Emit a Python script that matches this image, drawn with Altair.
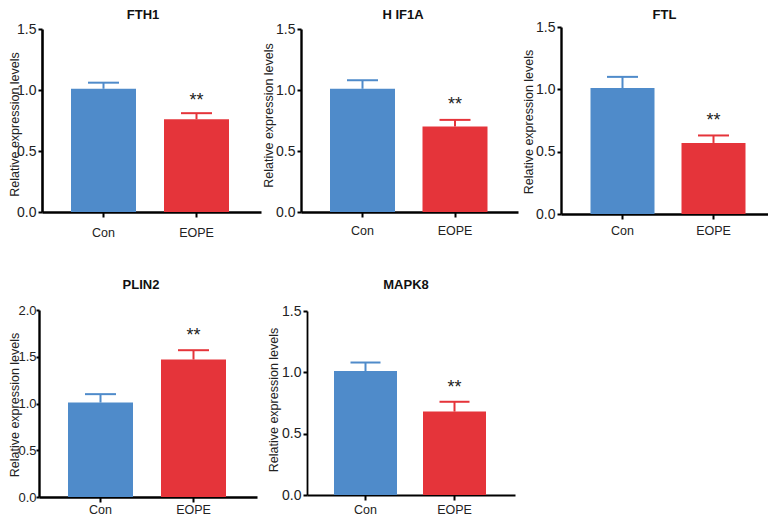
import altair as alt
import pandas as pd

GROUPS = ["Con", "EOPE"]
COLORS = ["#4f8bca", "#e5343a"]
TITLE_Y = "Relative expression levels"

GENES = ["FTH1", "H IF1A", "FTL", "PLIN2", "MAPK8"]
MEANS = [[1.01, 0.76], [1.01, 0.70], [1.01, 0.57], [1.01, 1.47], [1.01, 0.68]]
UPPER = [[1.06, 0.81], [1.08, 0.755], [1.10, 0.63], [1.10, 1.57], [1.08, 0.76]]
STARS = [0.934, 0.90, 0.77, 1.757, 0.895]
YMAX = [1.5, 1.5, 1.5, 2.0, 1.5]
YTICKS = [[0, 0.5, 1.0, 1.5], [0, 0.5, 1.0, 1.5], [0, 0.5, 1.0, 1.5],
          [0, 0.5, 1.0, 1.5, 2.0], [0, 0.5, 1.0, 1.5]]

# layout settings per panel
WIDTH = [222, 220, 207, 222, 220]
HEIGHT = 187
YRANGE = [[185, 2], [185, 2], [187, 0], [187, 0], [185, 1]]
XAXIS_OFF = [-2, -2, 0, 0, -2]
XSTART = [3, 0, 0, 0, 6]
XLEN = [219, 217, 207, 218, 208]
LEFT = [29, 29, 29.5, 29, 27]
STEP = [93, 92.5, 91, 93, 89]
BARW = [65, 65, 64, 65, 63]
TITLE_X = [-27.5, -33, -33, -24.5, -34]
TITLE_Y_POS = [97, 88, 94.5, 94.5, 89.5]
AXIS_OFF = [-3, 0, 0, 0, -6]
TITLE_DX = [-7, -8, 0, -9, -5]
TITLE_OFF = [0, 0, -2, 12, 12]
DOMAIN_W = [2.6, 2.4, 2.4, 2.4, 1.8]
CAPW = [31, 31, 31, 31, 30]
LABEL_PAD = [9, 7, 5, 1, 3]
YLABEL_SIZE = [14, 14, 14, 13, 14]
YLABEL_PAD = [2, 2, 2, 0, 2]
YTICK_SIZE = [4, 4, 4, 3, 4]
SPACING = 40
ROW_SPACING = 96
FONT = "Liberation Sans"


def panel(i):
    df = pd.DataFrame({"group": GROUPS, "mean": MEANS[i], "upper": UPPER[i]})
    sig = pd.DataFrame({"group": [GROUPS[1]], "star": [STARS[i]], "label": ["**"]})
    inner = 1 - BARW[i] / STEP[i]
    rest = XLEN[i] - STEP[i] * (2 - inner)
    xscale = alt.Scale(
        domain=GROUPS,
        range=[XSTART[i], XSTART[i] + XLEN[i]],
        paddingInner=inner,
        paddingOuter=rest / (2 * STEP[i]),
        align=LEFT[i] / rest,
        round=False,
    )
    xaxis = alt.Axis(
        title=None, labelAngle=0, labelFont=FONT, labelFontSize=12.5,
        labelColor="#222222", labelPadding=LABEL_PAD[i], tickSize=5, tickWidth=2,
        tickColor="black", domainColor="black", domainWidth=DOMAIN_W[i],
        offset=XAXIS_OFF[i],
    )
    x = alt.X("group:N", scale=xscale, sort=GROUPS, axis=xaxis)
    yscale = alt.Scale(domain=[0, YMAX[i]], range=YRANGE[i], nice=False)
    yaxis = alt.Axis(
        title=TITLE_Y, values=YTICKS[i], format=".1f", grid=False,
        offset=AXIS_OFF[i], labelFont=FONT, labelFontSize=YLABEL_SIZE[i],
        labelColor="#222222", labelPadding=YLABEL_PAD[i], tickSize=YTICK_SIZE[i], tickWidth=2,
        tickColor="black", domainColor="black", domainWidth=DOMAIN_W[i],
        titleFont=FONT, titleFontSize=12.5, titleFontWeight="normal",
        titleColor="#222222", titleX=TITLE_X[i], titleY=TITLE_Y_POS[i],
        titleAngle=270, titleAlign="center", titleBaseline="middle",
    )
    color = alt.Color("group:N", scale=alt.Scale(domain=GROUPS, range=COLORS), legend=None)
    base = alt.Chart(df)
    bar = base.mark_bar(opacity=1).encode(
        x=x, y=alt.Y("mean:Q", scale=yscale, axis=yaxis), color=color
    )
    rule = base.mark_rule(strokeWidth=2).encode(
        x=x, y=alt.Y("mean:Q", scale=yscale, axis=yaxis), y2="upper:Q", color=color
    )
    cap = base.mark_tick(size=CAPW[i], thickness=2, opacity=1).encode(
        x=x, y=alt.Y("upper:Q", scale=yscale, axis=yaxis), color=color
    )
    text = alt.Chart(sig).mark_text(
        font=FONT, fontSize=18, color="#222222", baseline="middle", dy=3
    ).encode(
        x=x, y=alt.Y("star:Q", scale=yscale, axis=yaxis), text="label:N"
    )
    return alt.layer(bar, rule, cap, text).properties(
        width=WIDTH[i],
        height=HEIGHT,
        title=alt.TitleParams(
            GENES[i], font=FONT, fontSize=13, fontWeight="bold", color="#111111",
            offset=TITLE_OFF[i], dx=TITLE_DX[i], anchor="middle", frame="group",
        ),
    )


chart = alt.concat(*[panel(i) for i in range(5)], columns=3, align="none",
                   bounds="flush", spacing={"row": ROW_SPACING, "column": SPACING}).configure_view(
    stroke=None
).properties(padding={"left": 0, "top": 1, "right": 0, "bottom": 0}, background="white")

chart.save("out.html", embed_options={"renderer": "svg", "actions": False})
